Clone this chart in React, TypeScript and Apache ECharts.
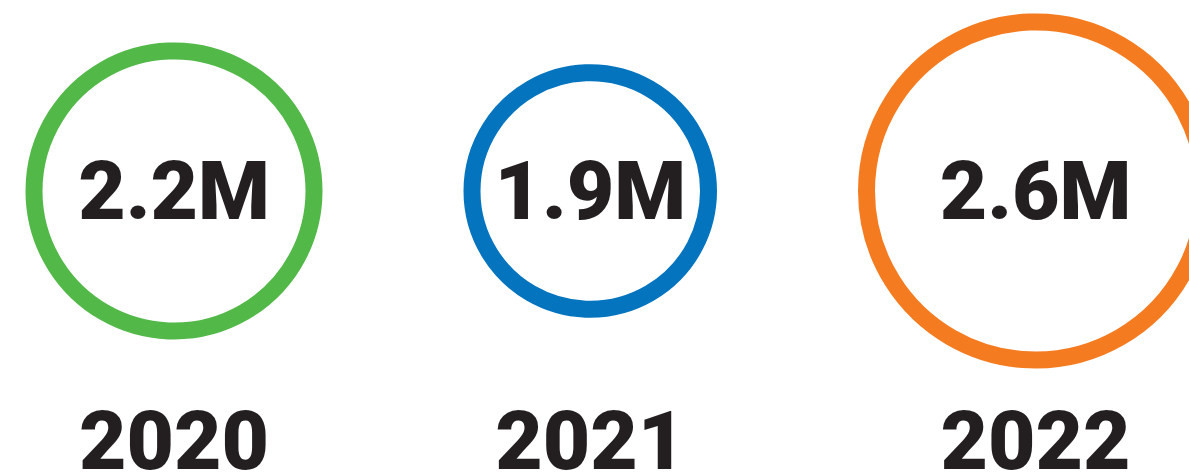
import React, { useEffect, useRef } from "react";
import * as echarts from "echarts";

const years = ["2020", "2021", "2022"];
const values = [2.2, 1.9, 2.6];
const valueLabels = ["2.2M", "1.9M", "2.6M"];
const colors = ["#52B848", "#0474BF", "#F47B20"];

const W = 1189;
const H = 473;
const RING = 17;
const LEFT = 25.5;
const GAP = 141;
const outerDiameter = (v: number) => 145 * v - 22;

function packedCenters(vals: number[]): number[] {
  const out: number[] = [];
  let edge = LEFT;
  vals.forEach((v) => {
    const d = outerDiameter(v);
    out.push(edge + d / 2);
    edge += d + GAP;
  });
  return out;
}

const FONT = "Roboto, 'Liberation Sans', sans-serif";

export default function App() {
  const ref = useRef<HTMLDivElement>(null);
  useEffect(() => {
    document.body.style.margin = "0";
    if (!ref.current) return;
    const chart = echarts.init(ref.current, undefined, { renderer: "svg" });
    const centers = packedCenters(values);
    chart.setOption({
      animation: false,
      backgroundColor: "#ffffff",
      grid: { left: 0, right: 0, top: 191, bottom: 32 },
      xAxis: { type: "value", min: 0, max: W, show: false },
      yAxis: { type: "value", min: 0, max: 1, show: false },
      series: [
        {
          type: "scatter",
          silent: true,
          clip: false,
          symbol: "circle",
          data: values.map((v, i) => ({
            value: [centers[i], 1],
            symbolSize: outerDiameter(v) - RING,
            itemStyle: {
              color: "rgba(255,255,255,0)",
              borderColor: colors[i],
              borderWidth: RING,
              opacity: 1,
            },
            label: {
              show: true,
              position: "inside",
              formatter: valueLabels[i],
              color: "#231F20",
              fontFamily: FONT,
              fontWeight: 900,
              fontSize: 82,
            },
          })),
        },
        {
          type: "scatter",
          silent: true,
          clip: false,
          symbol: "circle",
          symbolSize: 1,
          itemStyle: { color: "rgba(0,0,0,0)", opacity: 1 },
          data: years.map((y, i) => ({
            value: [centers[i], 0],
            label: {
              show: true,
              position: "inside",
              formatter: y,
              color: "#231F20",
              opacity: 1,
              fontFamily: FONT,
              fontWeight: 900,
              fontSize: 82,
            },
          })),
        },
      ],
    });
    return () => chart.dispose();
  }, []);
  return <div ref={ref} style={{ width: W, height: H }} />;
}
